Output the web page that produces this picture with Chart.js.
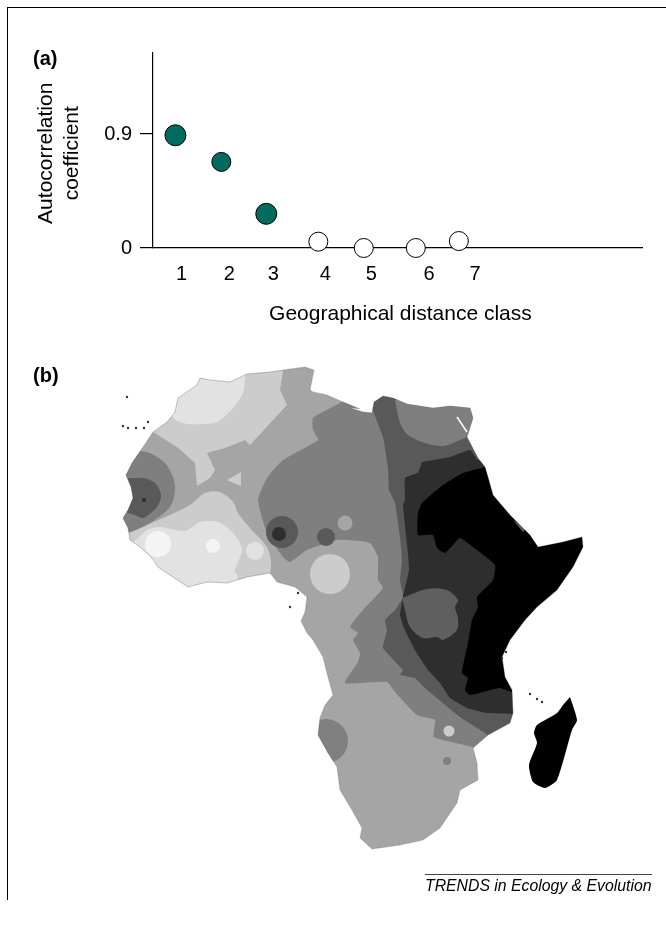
<!DOCTYPE html>
<html>
<head>
<meta charset="utf-8">
<script src="https://cdn.jsdelivr.net/npm/chart.js@4"></script>
<style>
  html, body { margin: 0; padding: 0; background: #fff; }
  body { position: relative; width: 666px; height: 926px; overflow: hidden; font-family: "Liberation Sans", Arial, sans-serif; color: #000; }
  canvas { position: absolute; left: 0; }
  #plotCanvas { top: 0; }
  #mapCanvas { top: 340px; }
  .frameTop { position: absolute; left: 7px; top: 7px; width: 659px; height: 1px; background: #000; }
  .frameLeft { position: absolute; left: 7px; top: 7px; width: 1px; height: 893px; background: #000; }
  .panel { position: absolute; left: 33px; font-size: 20px; font-weight: bold; line-height: 20px; }
  .source { position: absolute; left: 425px; top: 874px; width: 227px; border-top: 1px solid #444; font-size: 15.8px; font-style: italic; white-space: nowrap; padding-top: 2px; }
</style>
</head>
<body>
<div class="frameTop"></div>
<div class="frameLeft"></div>
<canvas id="plotCanvas" width="666" height="331"></canvas>
<canvas id="mapCanvas" width="666" height="586"></canvas>
<div class="panel" style="top:48px">(a)</div>
<div class="panel" style="top:365px">(b)</div>
<div class="source">TRENDS in Ecology &amp; Evolution</div>

<script>
// ----- Panel (a) values -----
const signifClass = [1, 1.97, 2.92];
const signifCoef = [0.89, 0.68, 0.27];
const otherClass = [4.02, 4.98, 6.08, 6.99];
const otherCoef = [0.05, 0, 0, 0.055];
const classTickAt = [1.13, 2.14, 3.07, 4.17, 5.14, 6.36, 7.33];
const classTickLabels = ["1", "2", "3", "4", "5", "6", "7"];
const coefTicks = [0, 0.9];

// ----- Panel (b) map outlines -----
const coast = [[360,409],[343,402],[327,395],[313,392],[310,390],[314,370],[305,367],[290,369],[270,372],[247,374],[230,382],[210,380],[200,378],[197,385],[178,398],[175,412],[167,422],[153,432],[143,447],[132,463],[126,475],[131,487],[133,498],[128,510],[123,518],[128,528],[130,540],[140,547],[152,558],[158,567],[173,577],[188,587],[207,582],[227,583],[247,577],[270,573],[277,582],[295,587],[307,597],[305,612],[301,621],[307,633],[313,640],[323,657],[328,677],[333,695],[325,705],[320,718],[318,735],[328,753],[337,767],[340,790],[352,810],[362,828],[360,838],[372,849],[400,845],[423,840],[440,828],[457,803],[460,790],[478,780],[477,763],[473,748],[488,735],[510,723],[513,713],[512,690],[505,677],[502,657],[510,640],[525,620],[537,607],[557,590],[573,567],[583,547],[582,537],[563,542],[538,547],[530,535],[510,515],[493,495],[488,477],[485,467],[478,458],[467,437],[473,418],[470,408],[450,406],[433,408],[407,404],[393,398],[383,396],[374,402],[372,413],[363,412],[350,408]];
const seaFrame = [[360,409],[360,350],[620,350],[620,860],[100,860],[100,350],[360,350]];
const madagascar = [[570,697],[577,720],[572,730],[557,780],[545,788],[533,782],[529,765],[537,743],[534,733],[537,725],[557,713],[563,705]];
const northLight = [[283,372],[280,390],[287,405],[250,445],[245,440],[225,448],[207,453],[215,470],[210,478],[197,486],[195,463],[177,447],[153,432],[140,420],[160,380],[200,360],[283,360]];
const northLighter = [[245,377],[243,393],[233,408],[217,422],[200,424],[187,424],[173,418],[160,400],[190,365],[245,365]];
const saharaPatch = [[227,480],[241,472],[241,486]];
const westMid = [[140,451],[150,453],[165,463],[173,477],[175,490],[170,507],[150,523],[130,532],[115,525],[110,470],[125,450]];
const westDark = [[132,478],[143,478],[155,483],[161,495],[157,507],[143,518],[135,515],[128,513],[115,505],[115,480]];
const guineaLight = [[125,535],[147,525],[170,515],[190,505],[205,493],[220,492],[233,502],[238,513],[250,528],[267,547],[271,562],[270,573],[265,590],[190,600],[140,560],[115,540]];
const guineaLighter = [[138,538],[147,530],[160,527],[185,531],[200,522],[218,522],[233,533],[242,550],[235,570],[238,578],[230,595],[170,590],[135,555],[130,545]];
const centralMid = [[342,402],[313,418],[313,430],[318,440],[283,460],[267,478],[258,500],[267,533],[283,557],[290,562],[307,550],[337,540],[350,540],[370,543],[378,557],[378,580],[383,588],[363,610],[350,627],[358,633],[353,640],[360,653],[358,662],[345,683],[387,682],[395,692],[417,715],[435,720],[434,737],[472,747],[480,755],[530,740],[600,500],[500,380],[342,385]];
const riftDark = [[370,395],[374,413],[383,437],[388,468],[389,490],[395,503],[400,537],[402,560],[400,580],[403,597],[395,610],[385,620],[387,630],[383,648],[403,670],[400,675],[415,678],[425,688],[460,717],[485,733],[490,738],[530,730],[600,500],[490,470],[480,380]];
const egyptMid = [[395,400],[400,423],[408,435],[425,443],[443,446],[460,440],[470,435],[485,425],[480,395]];
const eastDarker = [[422,462],[450,457],[470,450],[478,460],[500,460],[600,500],[530,714],[513,714],[487,713],[467,708],[450,698],[440,683],[428,670],[415,650],[404,628],[400,615],[403,597],[409,570],[408,553],[403,505],[405,500],[405,478],[418,473]];
const lakeBlob = [[402,598],[427,589],[447,590],[458,600],[455,607],[458,618],[457,630],[443,640],[437,637],[423,638],[410,627],[405,610]];
const hornBlack = [[485,467],[463,473],[443,485],[422,503],[418,513],[418,535],[433,535],[437,548],[445,553],[453,545],[460,538],[477,550],[495,565],[493,580],[477,597],[478,607],[472,620],[468,643],[462,673],[468,678],[465,690],[470,695],[487,691],[500,688],[512,692],[530,690],[600,500],[500,460]];
const djiboutiPatch = [[513,520],[527,528],[523,532]];
const sinaiGap = [[457,417],[467,432]];
const islands = [[127,397],[123,426],[128,428],[136,428],[144,428],[148,422],[298,593],[290,607],[506,652],[502,658],[530,694],[537,699],[542,702]];

// spots on the map: x, y and reach in map units
const spotWhiteX = [158, 213];
const spotWhiteY = [544, 546];
const spotWhiteR = [13, 7];
const spotPaleX = [255];
const spotPaleY = [551];
const spotPaleR = [9];
const spotLightX = [330, 449];
const spotLightY = [574, 731];
const spotLightR = [20, 5.5];
const spotMedX = [345];
const spotMedY = [523];
const spotMedR = [7.5];
const spotMidX = [326, 447];
const spotMidY = [741, 761];
const spotMidR = [22, 4];
const spotDarkX = [282, 326];
const spotDarkY = [532, 537];
const spotDarkR = [16, 9];
const spotBlackX = [279, 144];
const spotBlackY = [534, 500];
const spotBlackR = [7, 2];

const toPoints = (pairs) => pairs.map(([x, y]) => ({ x, y }));

const GREY = {
  white: "#f4f4f4", pale: "#e2e2e2", light: "#cccccc", med: "#a5a5a5",
  mid: "#7f7f7f", dark: "#595959", darker: "#2e2e2e", black: "#000000"
};

// ----- Panel (a) -----
new Chart(document.getElementById("plotCanvas"), {
  type: "scatter",
  data: {
    datasets: [
      {
        data: signifClass.map((x, i) => ({ x, y: signifCoef[i] })),
        backgroundColor: "#006b5e",
        borderColor: "#000",
        borderWidth: 1,
        pointRadius: [10.5, 9.5, 10.5]
      },
      {
        data: otherClass.map((x, i) => ({ x, y: otherCoef[i] })),
        backgroundColor: "#fff",
        borderColor: "#000",
        borderWidth: 1,
        pointRadius: 9.5
      }
    ]
  },
  options: {
    responsive: false,
    animation: false,
    clip: false,
    layout: { autoPadding: false, padding: { top: 52.7, right: 24, left: 0, bottom: 0 } },
    plugins: { legend: { display: false }, tooltip: { enabled: false } },
    scales: {
      x: {
        type: "linear",
        min: 0.526,
        max: 10.86,
        afterFit(scale) { scale.height = 83; },
        afterBuildTicks(scale) { scale.ticks = classTickAt.map((value) => ({ value })); },
        grid: { drawOnChartArea: false, drawTicks: false },
        border: { color: "#000", width: 1.2 },
        ticks: {
          autoSkip: false,
          maxRotation: 0,
          padding: 14,
          color: "#000",
          font: { family: "Liberation Sans", size: 20 },
          callback: (value, i) => classTickLabels[i]
        },
        title: {
          display: true,
          text: " Geographical distance class",
          color: "#000",
          font: { family: "Liberation Sans", size: 21 },
          padding: { top: 3 }
        }
      },
      y: {
        type: "linear",
        min: 0,
        max: 1.542,
        afterFit(scale) { scale.width = 153; },
        afterBuildTicks(scale) { scale.ticks = coefTicks.map((value) => ({ value })); },
        grid: { drawOnChartArea: false, drawTicks: true, tickLength: 13, color: "#000", lineWidth: 1.2 },
        border: { color: "#000", width: 1.2 },
        ticks: {
          padding: 8,
          color: "#000",
          font: { family: "Liberation Sans", size: 20 },
          callback: (value) => String(value)
        },
        title: {
          display: true,
          text: ["Autocorrelation ", "coefficient "],
          color: "#000",
          font: { family: "Liberation Sans", size: 21, lineHeight: 1.2 },
          padding: { top: 34, bottom: 0 }
        }
      }
    }
  }
});

// ----- Panel (b) -----
const area = (pairs, color, tension = 0.3) => ({
  data: toPoints(pairs),
  showLine: true,
  fill: "shape",
  tension,
  backgroundColor: color,
  borderWidth: 0,
  pointRadius: 0
});
const spots = (xs, ys, rs, color) => ({
  data: xs.map((x, i) => ({ x, y: ys[i] })),
  backgroundColor: color,
  borderWidth: 0,
  pointRadius: rs
});

// painted in this order, the sea mask trims whatever runs over the coast
const mapLayers = [
  area(coast, GREY.med, 0),
  area(northLight, GREY.light, 0),
  area(northLighter, GREY.pale),
  area(saharaPatch, GREY.light, 0),
  area(westMid, GREY.mid),
  area(westDark, GREY.dark),
  area(guineaLight, GREY.light),
  area(guineaLighter, GREY.pale),
  spots(spotWhiteX, spotWhiteY, spotWhiteR, GREY.white),
  spots(spotPaleX, spotPaleY, spotPaleR, GREY.pale),
  area(centralMid, GREY.mid, 0.15),
  spots(spotMedX, spotMedY, spotMedR, GREY.med),
  spots(spotDarkX, spotDarkY, spotDarkR, GREY.dark),
  area(riftDark, GREY.dark, 0.1),
  area(egyptMid, GREY.mid),
  area(eastDarker, GREY.darker, 0.1),
  area(lakeBlob, "#5f5f5f"),
  area(hornBlack, GREY.black, 0.15),
  area(djiboutiPatch, GREY.dark, 0),
  spots(spotLightX, spotLightY, spotLightR, GREY.light),
  spots(spotMidX, spotMidY, spotMidR, "#808080"),
  spots(spotBlackX, spotBlackY, spotBlackR, GREY.darker),
  area([...coast, coast[0], ...seaFrame], "#ffffff", 0),
  { data: toPoints(coast), showLine: true, tension: 0, borderColor: "rgba(50,50,50,0.4)", borderWidth: 0.7, pointRadius: 0 },
  { data: toPoints(sinaiGap), showLine: true, tension: 0, borderColor: "#ffffff", borderWidth: 1.5, pointRadius: 0 },
  area(madagascar, GREY.black, 0.2),
  spots(islands.map((p) => p[0]), islands.map((p) => p[1]), 1.2, "#333333")
];
// Chart.js paints the highest order first
mapLayers.forEach((layer, i) => { layer.order = -i; });

new Chart(document.getElementById("mapCanvas"), {
  type: "scatter",
  data: { datasets: mapLayers },
  options: {
    responsive: false,
    animation: false,
    layout: { autoPadding: false, padding: 0 },
    plugins: { legend: { display: false }, tooltip: { enabled: false } },
    scales: {
      x: { type: "linear", min: 0, max: 666, display: false },
      y: { type: "linear", min: 340, max: 926, reverse: true, display: false }
    }
  }
});
</script>
</body>
</html>
